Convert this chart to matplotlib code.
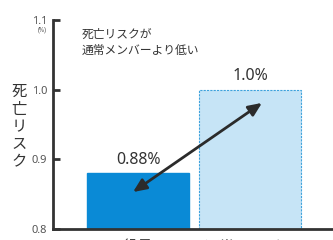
import matplotlib
matplotlib.use("Agg")
import matplotlib.pyplot as plt

plt.rcParams['font.family'] = ['Noto Sans CJK JP', 'DejaVu Sans']

categories = ["役員", "通常メンバー"]
values = [0.88, 1.0]
value_labels = ["0.88%", "1.0%"]
yticks = [0.8, 0.9, 1.0, 1.1]
ytick_labels = ["0.8", "0.9", "1.0", "1.1"]

fig = plt.figure(figsize=(3.33, 2.40), dpi=100)
fig.patch.set_facecolor("white")
ax = fig.add_axes([53/333, 11/240, 280/333, 209/240])
ax.set_facecolor("white")

x = [0, 1]
ax.bar(x[0], values[0] - 0.8, bottom=0.8, width=0.91, color="#0a8ad6", edgecolor="#0a8ad6", zorder=2)
ax.bar(x[1], values[1] - 0.8, bottom=0.8, width=0.91, color="#c6e4f6", edgecolor="#3ea2dc",
       linewidth=0.8, linestyle=(0, (2, 1)), zorder=2)

ax.set_xlim(-0.759, 1.741)
ax.set_ylim(0.8, 1.1)

for xi, v, lab in zip(x, values, value_labels):
    ax.text(xi, v + 0.008, lab, ha="center", va="bottom", fontsize=11.5, color="#333333",
            family=['Noto Sans', 'DejaVu Sans'])

ax.set_yticks(yticks)
ax.set_yticklabels(ytick_labels, fontsize=8, color="#555555", family=['Noto Sans', 'DejaVu Sans'])
ax.tick_params(axis="y", direction="in", length=5, width=2, color="#333333", pad=4)
ax.set_xticks(x)
ax.set_xticklabels(categories, fontsize=11, color="#444444")
ax.tick_params(axis="x", length=0, pad=7)

for s in ["top", "right"]:
    ax.spines[s].set_visible(False)
ax.spines["left"].set_linewidth(2)
ax.spines["left"].set_color("#333333")
ax.spines["bottom"].set_linewidth(2)
ax.spines["bottom"].set_color("#333333")

# (%) unit label
fig.text(42/333, 1 - 30/240, "(%)", fontsize=4.5, color="#555555", ha="center", va="center",
         family=['Noto Sans', 'DejaVu Sans'])

# vertical y label
fig.text(19/333, 1 - 127/240, "死\n亡\nリ\nス\nク", fontsize=11, color="#333333",
         ha="center", va="center", linespacing=1.05)

# note text
ax.text(-0.5, 1.088, "死亡リスクが\n通常メンバーより低い", fontsize=8.5, color="#333333",
        ha="left", va="top", linespacing=1.3)

# double-headed arrow
ax.annotate("", xy=(-0.045, 0.853), xytext=(1.107, 0.981),
            arrowprops=dict(arrowstyle="<|-|>,head_length=0.8,head_width=0.35",
                            color="#2b2b2b", lw=2.0, shrinkA=0, shrinkB=0), zorder=3)

fig.savefig("out.png", dpi=100)
